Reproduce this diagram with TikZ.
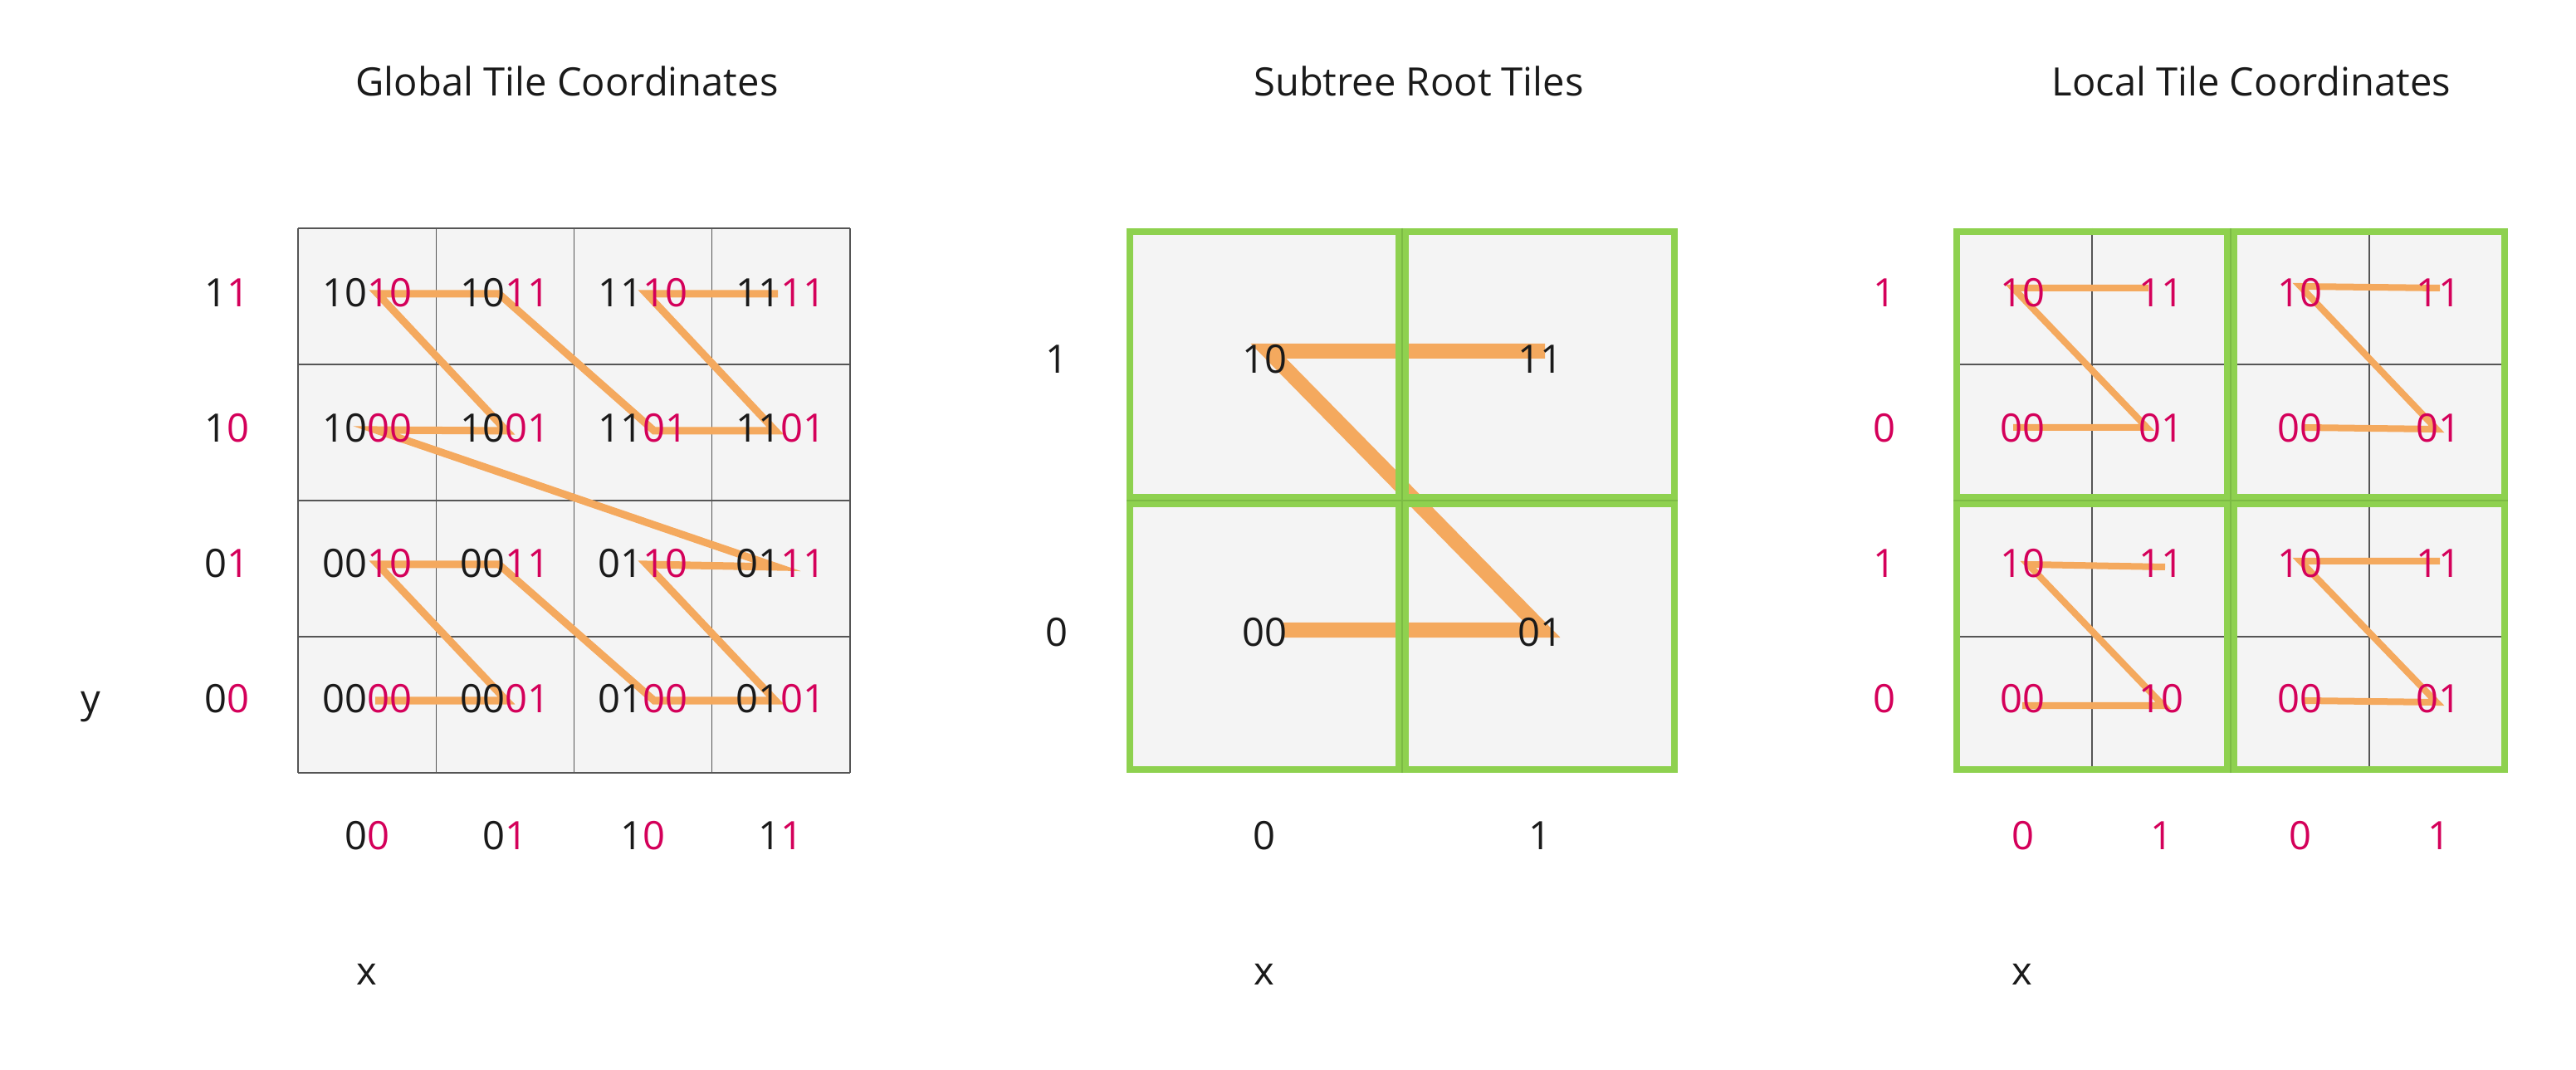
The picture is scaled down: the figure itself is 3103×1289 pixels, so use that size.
\documentclass[tikz,border=0pt]{standalone}
\usepackage{fontspec}
\setmainfont{Open Sans}
\definecolor{zred}{HTML}{D4005A}
\definecolor{zorange}{HTML}{F4A95E}
\definecolor{zgreen}{HTML}{8ED14F}
\definecolor{zgreendark}{HTML}{7CBB44}
\definecolor{zfill}{HTML}{F4F4F4}
\definecolor{zgrid}{HTML}{555555}
\definecolor{ztext}{HTML}{1A1A1A}
\newcommand{\rd}[1]{\textcolor{zred}{#1}}
\begin{document}
\begin{tikzpicture}[x=0.01cm,y=-0.01cm,
  lbl/.style={anchor=base, inner sep=0pt, font=\fontsize{13.4pt}{16pt}\selectfont, text=ztext},
  gridline/.style={draw=zgrid, line width=0.4pt},
  zline/.style={draw=zorange, line join=miter, miter limit=20, line width=#1},
  gbox/.style={draw=zgreen, line width=0.08cm}]
\useasboundingbox (0,0) rectangle (3103,1289);

% ---------------- titles
\node[lbl] (t1) at (683,116) {Global Tile Coordinates};
\node[lbl] (t2) at (1709,116) {Subtree Root Tiles};
\node[lbl] (t3) at (2712,116) {Local Tile Coordinates};

% ---------------- left grid
\fill[zfill] (359,275) rectangle (1024,931);
\foreach \i in {0,...,4} {
  \draw[gridline] ({359+166.25*\i},275) -- ({359+166.25*\i},931);
  \draw[gridline] (359,{275+164*\i}) -- (1024,{275+164*\i});
}
\coordinate (a1) at (452,844);
\coordinate (a2) at (610,844);
\coordinate (a3) at (455,680);
\coordinate (a4) at (601,680);
\coordinate (a5) at (788,844);
\coordinate (a6) at (934,844);
\coordinate (a7) at (779,680);
\coordinate (a8) at (936,683);
\coordinate (a9) at (453,518);
\coordinate (a10) at (610,519);
\coordinate (a11) at (455,354);
\coordinate (a12) at (601,354);
\coordinate (a13) at (788,519);
\coordinate (a14) at (934,519);
\coordinate (a15) at (779,354);
\coordinate (a16) at (937,354);
\draw[zline=0.09cm] (a1) -- (a2) -- (a3) -- (a4) -- (a5) -- (a6) -- (a7) -- (a8)
  -- (a9) -- (a10) -- (a11) -- (a12) -- (a13) -- (a14) -- (a15) -- (a16);

\foreach \t [count=\c from 0] in {10\rd{10},10\rd{11},11\rd{10},11\rd{11}}
  \node[lbl] (La\c) at ({359+166.25*(\c+0.5)},370) {\t};
\foreach \t [count=\c from 0] in {10\rd{00},10\rd{01},11\rd{01},11\rd{01}}
  \node[lbl] (Lb\c) at ({359+166.25*(\c+0.5)},533) {\t};
\foreach \t [count=\c from 0] in {00\rd{10},00\rd{11},01\rd{10},01\rd{11}}
  \node[lbl] (Lc\c) at ({359+166.25*(\c+0.5)},696) {\t};
\foreach \t [count=\c from 0] in {00\rd{00},00\rd{01},01\rd{00},01\rd{01}}
  \node[lbl] (Ld\c) at ({359+166.25*(\c+0.5)},859) {\t};

\node[lbl] (lr1) at (273,370) {1\rd{1}};
\node[lbl] (lr2) at (273,533) {1\rd{0}};
\node[lbl] (lr3) at (273,696) {0\rd{1}};
\node[lbl] (lr4) at (273,859) {0\rd{0}};
\node[lbl] (ly) at (109,859) {y};
\foreach \t [count=\c from 0] in {0\rd{0},0\rd{1},1\rd{0},1\rd{1}}
  \node[lbl] (lc\c) at ({359+166.25*(\c+0.5)},1024) {\t};
\node[lbl] (lx) at (442,1186) {x};

% ---------------- middle grid
\fill[zfill] (1357,275) rectangle (2021,931);
\coordinate (m00) at (1546,759);
\coordinate (m01) at (1858,759);
\coordinate (m10) at (1528,423);
\coordinate (m11) at (1861,423);
\draw[zline=0.18cm] (m00) -- (m01) -- (m10) -- (m11);
\foreach \xa/\xb in {1357/1689,1689/2021}
  \foreach \ya/\yb in {275/603,603/931}
    \draw[gbox] ({\xa+4},{\ya+4}) rectangle ({\xb-4},{\yb-4});
\draw[zgreendark, line width=0.6pt] (1689,275) -- (1689,931) (1357,603) -- (2021,603);
\node[lbl] (M10) at (1523,450) {10};
\node[lbl] (M11) at (1855,450) {11};
\node[lbl] (M00) at (1523,779) {00};
\node[lbl] (M01) at (1855,779) {01};
\node[lbl] (mr1) at (1273,450) {1};
\node[lbl] (mr0) at (1273,779) {0};
\node[lbl] (mc0) at (1523,1024) {0};
\node[lbl] (mc1) at (1855,1024) {1};
\node[lbl] (mx) at (1523,1186) {x};

% ---------------- right grid
\fill[zfill] (2353,275) rectangle (3021,931);
\draw[gridline] (2520,275) -- (2520,931) (2854,275) -- (2854,931)
  (2353,439) -- (3021,439) (2353,767) -- (3021,767);
\coordinate (p1) at (2425,515);
\coordinate (p2) at (2586,515);
\coordinate (p3) at (2425,347);
\coordinate (p4) at (2588,347);
\draw[zline=0.08cm] (p1) -- (p2) -- (p3) -- (p4);
\coordinate (q1) at (2776,515);
\coordinate (q2) at (2935,517);
\coordinate (q3) at (2771,345);
\coordinate (q4) at (2939,347);
\draw[zline=0.08cm] (q1) -- (q2) -- (q3) -- (q4);
\coordinate (r1) at (2436,850);
\coordinate (r2) at (2606,850);
\coordinate (r3) at (2443,680);
\coordinate (r4) at (2608,683);
\draw[zline=0.08cm] (r1) -- (r2) -- (r3) -- (r4);
\coordinate (s1) at (2776,844);
\coordinate (s2) at (2935,846);
\coordinate (s3) at (2771,676);
\coordinate (s4) at (2939,676);
\draw[zline=0.08cm] (s1) -- (s2) -- (s3) -- (s4);
\foreach \xa/\xb in {2353/2687,2687/3021}
  \foreach \ya/\yb in {275/603,603/931}
    \draw[gbox] ({\xa+4},{\ya+4}) rectangle ({\xb-4},{\yb-4});
\draw[zgreendark, line width=0.6pt] (2687,275) -- (2687,931) (2353,603) -- (3021,603);

\foreach \t [count=\c from 0] in {10,11,10,11}
  \node[lbl, text=zred] (Ra\c) at ({2353+167*(\c+0.5)},370) {\t};
\foreach \t [count=\c from 0] in {00,01,00,01}
  \node[lbl, text=zred] (Rb\c) at ({2353+167*(\c+0.5)},533) {\t};
\foreach \t [count=\c from 0] in {10,11,10,11}
  \node[lbl, text=zred] (Rc\c) at ({2353+167*(\c+0.5)},696) {\t};
\foreach \t [count=\c from 0] in {00,10,00,01}
  \node[lbl, text=zred] (Rd\c) at ({2353+167*(\c+0.5)},859) {\t};

\node[lbl, text=zred] (rr1) at (2270,370) {1};
\node[lbl, text=zred] (rr2) at (2270,533) {0};
\node[lbl, text=zred] (rr3) at (2270,696) {1};
\node[lbl, text=zred] (rr4) at (2270,859) {0};
\foreach \t [count=\c from 0] in {0,1,0,1}
  \node[lbl, text=zred] (rc\c) at ({2353+167*(\c+0.5)},1024) {\t};
\node[lbl] (rx) at (2436,1186) {x};
\end{tikzpicture}
\end{document}
